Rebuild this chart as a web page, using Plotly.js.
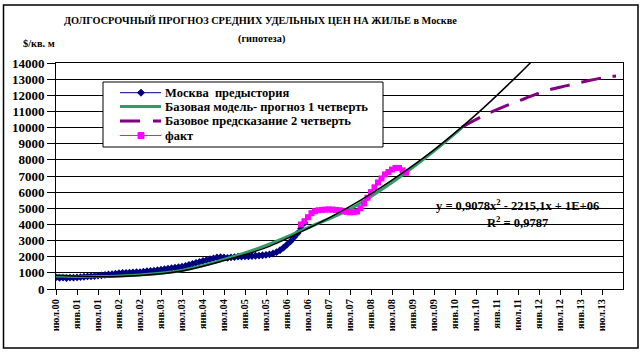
<!DOCTYPE html>
<html>
<head>
<meta charset="utf-8">
<script src="https://cdn.plot.ly/plotly-3.0.1.min.js"></script>
<style>html,body{margin:0;padding:0;background:#fff;}#chart{width:642px;height:353px;}</style>
</head>
<body>
<div id="chart"></div>
<script>
// month index: 0 = июл.00
var tickLabels = ["июл.00","янв.01","июл.01","янв.02","июл.02","янв.03","июл.03","янв.04","июл.04","янв.05","июл.05","янв.06","июл.06","янв.07","июл.07","янв.08","июл.08","янв.09","июл.09","янв.10","июл.10","янв.11","июл.11","янв.12","июл.12","янв.13","июл.13"];

var seriesNames = ["Москва  предыстория", "Базовая модель- прогноз 1 четверть", "Базовое предсказание 2 четверть", "факт"];

var historyValues = [720,690,700,680,710,700,720,740,760,780,790,800,
  830,850,870,900,920,950,980,990,1000,1010,1030,1040,
  1050,1070,1100,1120,1140,1170,1200,1230,1260,1290,1320,1350,
  1380,1430,1500,1560,1620,1680,1740,1790,1850,1900,1950,1970,
  1950,1930,1960,1980,2000,2010,2020,2030,2040,2060,2070,2090,
  2110,2150,2200,2280,2400,2560,2750,2950,3200,3450,3750,4100];
var historyStart = 0;

var factValues = [4000,4200,4450,4700,4820,4880,4900,4920,4930,4920,4900,4880,
  4820,4780,4750,4760,4800,5000,5300,5650,6000,6300,6600,6850,7100,7250,7400,7500,7500,7350,7200];
var factStart = 70;

var model1Months = [0,12,24,36,48,60,72,84,96,108,116];
var model1Values = [800,770,870,1150,1830,2700,3800,4950,6600,8550,10000];

var model2Months = [116,122,128,134,140,146,152,158,160];
var model2Values = [10030,10720,11300,11800,12280,12600,12900,13150,13200];

var trendMonths = [0,12,24,36,48,60,72,84,96,108,120,132,140];
var trendValues = [850,760,840,1120,1760,2560,3750,5120,6750,8620,10800,13250,15000];

function seq(start, n){ var a=[]; for(var i=0;i<n;i++) a.push(start+i); return a; }
var tickVals = tickLabels.map(function(_, i){ return i*6; });

var F = "Liberation Serif";
var NAVY = "#000080", GREEN = "#339966", PURPLE = "#800080", PINK = "#FF00FF";

var traces = [
  {x: seq(historyStart, historyValues.length), y: historyValues, name: seriesNames[0],
   mode: "lines+markers", line: {color: NAVY, width: 1},
   marker: {symbol: "diamond", size: 6, color: NAVY}},
  {x: model1Months, y: model1Values, name: seriesNames[1],
   mode: "lines", line: {color: GREEN, width: 3, shape: "spline"}},
  {x: model2Months, y: model2Values, name: seriesNames[2],
   mode: "lines", line: {color: PURPLE, width: 3, dash: "20px,12px", shape: "spline"}},
  {x: seq(factStart, factValues.length), y: factValues, name: seriesNames[3],
   mode: "lines+markers", line: {color: PINK, width: 1},
   marker: {symbol: "square", size: 6, color: PINK}},
  {x: trendMonths, y: trendValues, name: "trend",
   mode: "lines", line: {color: "#000000", width: 1.5, shape: "spline"}}
];

// pixel -> paper helpers (plot area: x 56..623, y 63..289)
function px(x){ return (x - 56) / 567; }
function py(y){ return (289 - y) / 226; }

var legendRows = [92.7, 106.5, 121, 135.5];
var shapes = [
  {type: "rect", xref: "paper", yref: "paper", x0: px(3.5), x1: px(638), y0: py(348), y1: py(5),
   line: {color: "#000", width: 1.5}, fillcolor: "rgba(0,0,0,0)", layer: "below"},
  {type: "rect", xref: "paper", yref: "paper", x0: px(103), x1: px(383), y0: py(147), y1: py(82),
   line: {color: "#000", width: 1}, fillcolor: "#fff", layer: "above"},
  {type: "line", xref: "paper", yref: "paper", x0: px(120), x1: px(161), y0: py(legendRows[0]), y1: py(legendRows[0]),
   line: {color: NAVY, width: 1}, layer: "above"},
  {type: "path", xref: "paper", yref: "paper", layer: "above", fillcolor: NAVY, line: {color: NAVY, width: 1},
   path: "M" + px(137.5) + "," + py(legendRows[0]) + " L" + px(141) + "," + py(legendRows[0]-3.5) +
         " L" + px(144.5) + "," + py(legendRows[0]) + " L" + px(141) + "," + py(legendRows[0]+3.5) + " Z"},
  {type: "line", xref: "paper", yref: "paper", x0: px(120), x1: px(161), y0: py(legendRows[1]), y1: py(legendRows[1]),
   line: {color: GREEN, width: 3}, layer: "above"},
  {type: "line", xref: "paper", yref: "paper", x0: px(120), x1: px(161), y0: py(legendRows[2]), y1: py(legendRows[2]),
   line: {color: PURPLE, width: 3, dash: "20px,13px"}, layer: "above"},
  {type: "line", xref: "paper", yref: "paper", x0: px(120), x1: px(161), y0: py(legendRows[3]), y1: py(legendRows[3]),
   line: {color: PINK, width: 1}, layer: "above"},
  {type: "rect", xref: "paper", yref: "paper", layer: "above", fillcolor: PINK, line: {color: PINK, width: 1},
   x0: px(138), x1: px(144), y0: py(legendRows[3]+3), y1: py(legendRows[3]-3)}
];

var annFont = {family: F, size: 12, weight: "bold", color: "#000"};
var annotations = [
  {xref: "paper", yref: "paper", x: px(260), y: py(21), text: "ДОЛГОСРОЧНЫЙ ПРОГНОЗ СРЕДНИХ УДЕЛЬНЫХ ЦЕН НА ЖИЛЬЕ в Москве",
   showarrow: false, xanchor: "center", yanchor: "middle", font: {family: F, size: 10.3, weight: "bold", color: "#000"}},
  {xref: "paper", yref: "paper", x: px(261), y: py(39), text: "(гипотеза)",
   showarrow: false, xanchor: "center", yanchor: "middle", font: {family: F, size: 10.3, weight: "bold", color: "#000"}},
  {xref: "paper", yref: "paper", x: px(39), y: py(43), text: "$/кв. м",
   showarrow: false, xanchor: "center", yanchor: "middle", font: {family: F, size: 10.3, weight: "bold", color: "#000"}},
  {xref: "paper", yref: "paper", x: px(517), y: py(205), text: "y = 0,9078x<sup>2</sup> - 2215,1x + 1E+06",
   showarrow: false, xanchor: "center", yanchor: "middle", font: {family: F, size: 12.5, weight: "bold", color: "#000"}},
  {xref: "paper", yref: "paper", x: px(517), y: py(222), text: "R<sup>2</sup> = 0,9787",
   showarrow: false, xanchor: "center", yanchor: "middle", font: {family: F, size: 12.5, weight: "bold", color: "#000"}}
];
seriesNames.forEach(function(name, i){
  annotations.push({xref: "paper", yref: "paper", x: px(163), y: py(legendRows[i]), text: name,
    showarrow: false, xanchor: "left", yanchor: "middle", font: {family: F, size: 12.5, weight: "bold", color: "#000"}});
});

var layout = {
  width: 642, height: 353,
  margin: {l: 56, r: 19, t: 63, b: 64},
  paper_bgcolor: "#fff", plot_bgcolor: "#fff",
  font: {family: F, color: "#000", size: 12},
  showlegend: false,
  xaxis: {range: [0, 162], tickvals: tickVals, ticktext: tickLabels, tickangle: -90,
    showgrid: false, zeroline: false, showline: true, linecolor: "#000", linewidth: 1, mirror: true,
    ticks: "outside", ticklen: 5, tickcolor: "#000",
    tickfont: {family: F, size: 10.3, weight: "bold", color: "#000"}},
  yaxis: {range: [0, 14000], dtick: 1000, tickformat: "d", showgrid: true, gridcolor: "#000", gridwidth: 1,
    zeroline: false, showline: true, linecolor: "#000", linewidth: 1, mirror: true,
    ticks: "outside", ticklen: 8, tickcolor: "#000",
    tickfont: {family: F, size: 13, weight: "bold", color: "#000"}},
  annotations: annotations,
  shapes: shapes
};

Plotly.newPlot("chart", traces, layout, {displayModeBar: false, staticPlot: true});
</script>
</body>
</html>
